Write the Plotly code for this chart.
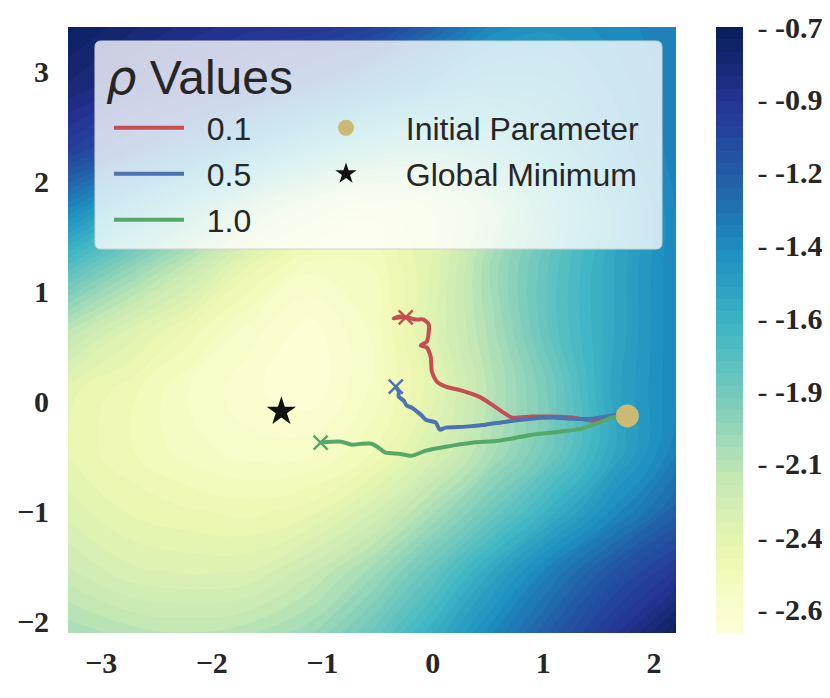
import plotly.graph_objects as go

# ---------------- data ----------------
x_grid = [-3.3, -2.75, -2.2, -1.65, -1.1, -0.55, 0.0, 0.55, 1.1, 1.65, 2.2]
y_grid = [-2.1, -1.55, -1.0, -0.45, 0.1, 0.65, 1.2, 1.75, 2.3, 2.85, 3.4]
# loss surface estimated on the grid (one row per y value, bottom to top)
loss_rows = [
    [-2.08, -2.13, -2.15, -2.12, -2.04, -1.86, -1.63, -1.38, -1.15, -0.94, -0.72],
    [-2.22, -2.30, -2.32, -2.31, -2.20, -2.05, -1.83, -1.57, -1.33, -1.12, -0.96],
    [-2.33, -2.40, -2.43, -2.45, -2.41, -2.28, -2.08, -1.86, -1.63, -1.40, -1.20],
    [-2.40, -2.47, -2.54, -2.58, -2.57, -2.48, -2.30, -2.08, -1.86, -1.58, -1.35],
    [-2.38, -2.46, -2.56, -2.63, -2.67, -2.55, -2.37, -2.12, -1.88, -1.56, -1.38],
    [-2.15, -2.32, -2.45, -2.58, -2.66, -2.55, -2.33, -2.08, -1.80, -1.58, -1.38],
    [-1.78, -2.00, -2.20, -2.42, -2.55, -2.52, -2.35, -2.05, -1.80, -1.58, -1.38],
    [-1.38, -1.60, -1.85, -2.10, -2.30, -2.42, -2.35, -2.12, -1.85, -1.60, -1.38],
    [-1.00, -1.15, -1.32, -1.52, -1.72, -1.88, -1.92, -1.85, -1.68, -1.50, -1.35],
    [-0.82, -0.90, -0.98, -1.08, -1.20, -1.35, -1.50, -1.58, -1.55, -1.45, -1.35],
    [-0.72, -0.80, -0.87, -0.92, -0.94, -1.00, -1.20, -1.40, -1.45, -1.40, -1.35],
]
z_min = -2.68
z_max = -0.69

rho_labels = ["0.1", "0.5", "1.0"]

traj_x_01 = [1.759, 1.596, 1.441, 1.260, 1.079, 0.898, 0.716, 0.626, 0.535, 0.417,
             0.263, 0.118, 0.036, -0.009, -0.018, -0.054, -0.109, -0.054, -0.036,
             -0.036, -0.082, -0.154, -0.236, -0.308, -0.354, -0.299, -0.245]
traj_y_01 = [-0.127, -0.145, -0.173, -0.145, -0.136, -0.136, -0.145, -0.091, -0.027,
             0.045, 0.100, 0.136, 0.182, 0.273, 0.400, 0.491, 0.509, 0.545, 0.636,
             0.700, 0.745, 0.745, 0.764, 0.764, 0.755, 0.773, 0.764]

traj_x_05 = [1.759, 1.659, 1.441, 1.260, 1.079, 0.898, 0.662, 0.481, 0.299, 0.118,
             0.063, 0.027, -0.063, -0.109, -0.190, -0.236, -0.263, -0.308, -0.308, -0.335]
traj_y_05 = [-0.109, -0.118, -0.155, -0.155, -0.145, -0.155, -0.182, -0.209, -0.227,
             -0.236, -0.255, -0.191, -0.164, -0.118, -0.055, -0.036, 0.009, 0.045,
             0.091, 0.136]

traj_x_10 = [1.759, 1.623, 1.505, 1.351, 1.142, 0.898, 0.598, 0.354, 0.118, -0.063,
             -0.190, -0.308, -0.426, -0.490, -0.553, -0.644, -0.734, -0.825, -0.916, -1.015]
traj_y_10 = [-0.145, -0.145, -0.191, -0.245, -0.273, -0.300, -0.355, -0.373, -0.409,
             -0.445, -0.491, -0.473, -0.464, -0.418, -0.382, -0.382, -0.391, -0.364,
             -0.364, -0.373]

initial_x = [1.76]
initial_y = [-0.13]
global_min_x = [-1.37]
global_min_y = [-0.09]

x_ticks = [-3, -2, -1, 0, 1, 2]
y_ticks = [-2, -1, 0, 1, 2, 3]
cbar_tickvals = [-0.69, -0.929, -1.168, -1.408, -1.647, -1.886, -2.125, -2.365, -2.604]
cbar_ticktext = ["-0.7", "-0.9", "-1.2", "-1.4", "-1.6", "-1.9", "-2.1", "-2.4", "-2.6"]

# ---------------- style ----------------
YLGNBU = ["#ffffd9", "#edf8b1", "#c7e9b4", "#7fcdbb", "#41b6c4",
          "#1d91c0", "#225ea8", "#253494", "#081d58"]
colorscale = [[i / (len(YLGNBU) - 1), c] for i, c in enumerate(YLGNBU)]
RED, BLUE, GREEN, GOLD = "#c44e52", "#4c72b0", "#55a868", "#ccb974"
TXT = "#262626"
SERIF_BOLD = dict(family="Liberation Serif", size=30, color=TXT, weight="bold")
SANS = dict(family="Liberation Sans", size=32, color=TXT)
NB = "\u00a0"

# the page adds an 8px body margin, the figure is sized to fit the window
OFF = 8
W, H = 830 - OFF, 698 - OFF
ML, MR, MT, MB = 68 - OFF, 154, 27 - OFF, 65
PW, PH = W - ML - MR, H - MT - MB


def px_x(p):
    return (p - (ML + OFF)) / PW


def px_y(p):
    return (H + OFF - MB - p) / PH


fig = go.Figure()

cbar_labels = ["<span style='font-weight:normal'>-</span>" + NB + t for t in cbar_ticktext]

fig.add_trace(go.Contour(
    x=x_grid, y=y_grid, z=loss_rows,
    colorscale=colorscale, zmin=z_min, zmax=z_max,
    autocontour=False,
    contours=dict(start=z_min, end=z_max, size=(z_max - z_min) / 49,
                  coloring="fill", showlines=False),
    line=dict(width=0, smoothing=1.3),
    showlegend=False, hoverinfo="skip",
    colorbar=dict(
        thickness=27, thicknessmode="pixels", len=1, lenmode="fraction",
        x=px_x(716), xanchor="left", xpad=0, y=0.5, yanchor="middle", ypad=0,
        outlinewidth=0, ticks="outside", ticklen=9, tickwidth=1,
        tickcolor="rgba(0,0,0,0)",
        tickvals=cbar_tickvals, ticktext=cbar_labels, tickfont=SERIF_BOLD,
    ),
))

trajs = [(traj_x_01, traj_y_01, RED, "legend"),
         (traj_x_05, traj_y_05, BLUE, "legend2"),
         (traj_x_10, traj_y_10, GREEN, "legend3")]
for (tx, ty, col, lg), lab in zip(trajs, rho_labels):
    fig.add_trace(go.Scatter(x=tx, y=ty, mode="lines", name=NB + NB + lab, legend=lg,
                             line=dict(color=col, width=4, shape="spline", smoothing=0.6),
                             hoverinfo="skip"))
for (tx, ty, col, lg) in trajs:
    fig.add_trace(go.Scatter(x=tx[-1:], y=ty[-1:], mode="markers", showlegend=False,
                             marker=dict(symbol="x-thin", size=14,
                                         line=dict(color=col, width=2.5)),
                             hoverinfo="skip"))

fig.add_trace(go.Scatter(x=initial_x, y=initial_y, mode="markers",
                         name=NB + NB + "Initial Parameter",
                         legend="legend4", marker=dict(color=GOLD, size=23),
                         hoverinfo="skip"))
fig.add_trace(go.Scatter(x=global_min_x, y=global_min_y, mode="markers",
                         name=NB + NB + "Global Minimum",
                         legend="legend5", marker=dict(color="#111111", size=22, symbol="star"),
                         hoverinfo="skip"))

# legend box
x0, x1 = px_x(95), px_x(662)
y0, y1 = px_y(249), px_y(41)
rx, ry = 6 / PW, 6 / PH
box = (f"M{x0+rx},{y0} L{x1-rx},{y0} Q{x1},{y0} {x1},{y0+ry} L{x1},{y1-ry} "
       f"Q{x1},{y1} {x1-rx},{y1} L{x0+rx},{y1} Q{x0},{y1} {x0},{y1-ry} "
       f"L{x0},{y0+ry} Q{x0},{y0} {x0+rx},{y0} Z")
fig.add_shape(type="path", path=box, xref="paper", yref="paper", layer="above",
              fillcolor="rgba(255,255,255,0.78)", line=dict(color="#d0d0d0", width=1))

fig.add_annotation(text="<span style='font-family:DejaVu Sans'><i>ρ</i></span>" + NB + "Values",
                   xref="paper", yref="paper",
                   x=px_x(104), y=px_y(77), xanchor="left", yanchor="middle",
                   showarrow=False, font=dict(family="Liberation Sans", size=48, color=TXT))

leg_common = dict(xanchor="left", yanchor="middle", bgcolor="rgba(0,0,0,0)",
                  borderwidth=0, font=SANS, itemsizing="trace")
row_y = [128, 174, 220]
col1_x, col2_x = 109, 304
fig.update_layout(
    legend=dict(x=px_x(col1_x), y=px_y(row_y[0]), itemwidth=70, **leg_common),
    legend2=dict(x=px_x(col1_x), y=px_y(row_y[1]), itemwidth=70, **leg_common),
    legend3=dict(x=px_x(col1_x), y=px_y(row_y[2]), itemwidth=70, **leg_common),
    legend4=dict(x=px_x(col2_x), y=px_y(row_y[0]), itemwidth=74, **leg_common),
    legend5=dict(x=px_x(col2_x), y=px_y(row_y[1]), itemwidth=74, **leg_common),
)

fig.update_layout(
    width=W, height=H,
    margin=dict(l=ML, r=MR, t=MT, b=MB, pad=0, autoexpand=False),
    paper_bgcolor="white", plot_bgcolor="white",
    xaxis=dict(range=[-3.3, 2.2], tickvals=x_ticks, showgrid=False, zeroline=False,
               ticks="", tickfont=SERIF_BOLD, ticklabelstandoff=9, showline=False,
               automargin=False),
    yaxis=dict(range=[-2.1, 3.4], tickvals=y_ticks, showgrid=False, zeroline=False,
               ticks="", tickfont=SERIF_BOLD, ticklabelstandoff=18, showline=False,
               automargin=False),
)

fig.write_html("out.html")
